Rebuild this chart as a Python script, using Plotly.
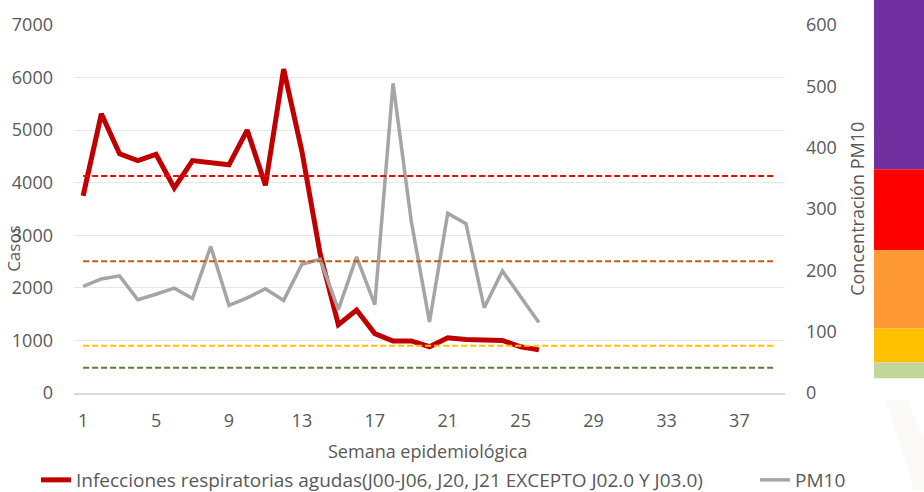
import plotly.graph_objects as go

# Epidemiological weeks with reported data
weeks = list(range(1, 27))

# Acute respiratory infection cases per week (left axis)
ira_cases = [3750, 5310, 4550, 4420, 4540, 3900, 4420, 4390, 4340, 5000,
             3950, 6160, 4600, 2650, 1300, 1580, 1130, 990, 990, 880,
             1050, 1020, 1000, 1000, 880, 820]

# Weekly PM10 concentration (right axis)
pm10 = [174, 186, 191, 152, 161, 171, 154, 239, 143, 155,
        170, 151, 210, 218, 136, 222, 144, 505, 280, 116,
        293, 276, 139, 199, 157, 115]

# Reference levels drawn as dashed lines (PM10 units)
threshold_levels = [354, 215, 77, 41]
threshold_colors = ["#FF0000", "#C55A11", "#FFC000", "#548235"]
threshold_span = [1, 39]

# Colour scale bands shown beside the right axis (PM10 units)
band_tops = [680, 365, 233, 105, 50]
band_bottoms = [365, 233, 105, 50, 24]
band_colors = ["#7030A0", "#FF0000", "#FF9933", "#FFC000", "#C4D79B"]

x_ticks = list(range(1, 39, 4))
y_left_ticks = list(range(0, 7001, 1000))
y_right_ticks = list(range(0, 601, 100))

series_ira = "Infecciones respiratorias agudas(J00-J06, J20, J21 EXCEPTO J02.0 Y J03.0)"
series_pm = "PM10"

TEXT = "#595959"
FONT = "Open Sans"

fig = go.Figure()

fig.add_trace(go.Scatter(
    x=weeks, y=pm10, name=series_pm, yaxis="y2", mode="lines",
    line=dict(color="#A5A5A5", width=3.5), legend="legend2",
))
fig.add_trace(go.Scatter(
    x=weeks, y=ira_cases, name=series_ira, mode="lines",
    line=dict(color="#C00000", width=5), legend="legend",
))
for level, color in zip(threshold_levels, threshold_colors):
    fig.add_trace(go.Scatter(
        x=threshold_span, y=[level, level], yaxis="y2", mode="lines",
        line=dict(color=color, width=2, dash="6px,3px"),
        showlegend=False, hoverinfo="skip",
    ))

# Colour scale bar to the right of the chart
x_left, x_right = 1.1252, 1.1990
for top, bottom, color in zip(band_tops, band_bottoms, band_colors):
    fig.add_shape(type="rect", xref="paper", yref="y2 domain",
                  x0=x_left, x1=x_right, y0=bottom / 600, y1=top / 600,
                  fillcolor=color, line=dict(width=0), layer="above")

# Faint decorative background motif at the bottom right corner
fig.add_shape(type="path", xref="paper", yref="paper",
              path="M 1.142,-0.02 L 1.172,-0.02 L 1.199,-0.14 L 1.199,-0.265 L 1.182,-0.265 Z",
              fillcolor="#FCFAF6", line=dict(width=0), layer="below")

fig.update_layout(
    width=924, height=492,
    margin=dict(l=74, r=139, t=20, b=99),
    plot_bgcolor="white", paper_bgcolor="white",
    font=dict(family=FONT, color=TEXT, size=18),
    xaxis=dict(range=[0.5, 39.5], tickvals=x_ticks, showgrid=False,
               zeroline=False, showline=True, linecolor="#D9D9D9",
               linewidth=2, ticks="", ticklabelstandoff=10,
               tickfont=dict(size=18, color=TEXT)),
    yaxis=dict(range=[0, 7000], tickvals=y_left_ticks, showgrid=True,
               gridcolor="#E7E7E7", gridwidth=1.3, zeroline=False,
               showline=False, ticks="", ticklabelstandoff=20,
               tickfont=dict(size=18, color=TEXT)),
    yaxis2=dict(range=[0, 600], tickvals=y_right_ticks, overlaying="y",
                side="right", showgrid=False, zeroline=False,
                showline=False, ticks="", ticklabelstandoff=20,
                tickfont=dict(size=18, color=TEXT)),
    legend=dict(orientation="h", xref="container", yref="container",
                x=36 / 924, y=1 - 480 / 492, xanchor="left", yanchor="middle",
                font=dict(size=19, color=TEXT), bgcolor="rgba(0,0,0,0)"),
    legend2=dict(orientation="h", xref="container", yref="container",
                 x=755 / 924, y=1 - 480 / 492, xanchor="left", yanchor="middle",
                 font=dict(size=19, color=TEXT), bgcolor="rgba(0,0,0,0)"),
    annotations=[
        dict(text="Casos", xref="paper", yref="paper", x=-0.086, y=0.394,
             xanchor="center", yanchor="middle",
             textangle=-90, showarrow=False, font=dict(size=17, color=TEXT)),
        dict(text="Concentración PM10", xref="paper", yref="paper",
             x=1.101, y=0.5, xanchor="center", yanchor="middle",
             textangle=-90, showarrow=False,
             font=dict(size=18, color=TEXT)),
        dict(text="Semana epidemiológica", xref="paper", yref="paper",
             x=0.498, y=-0.158, xanchor="center", yanchor="middle",
             showarrow=False, font=dict(size=18, color=TEXT)),
    ],
)

fig.write_html("out.html")
